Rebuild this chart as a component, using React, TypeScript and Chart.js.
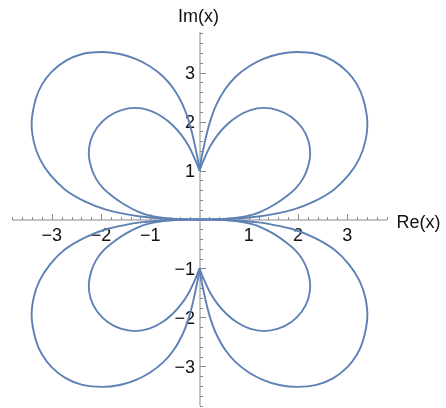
import { useEffect, useRef } from "react";
import { Chart, registerables } from "chart.js";

Chart.register(...registerables);

// Upper-left outer loop: from the origin, out along the real axis, round, and into the cusp at i.
const OUTER_RE = [0, -0.5, -0.9, -1.2, -1.5, -1.9, -2.33, -2.73, -3.04, -3.25, -3.37, -3.41, -3.33, -3.2, -3.0, -2.72, -2.38, -1.98, -1.62, -1.3, -1.01, -0.74, -0.52, -0.35, -0.23, -0.14, -0.07, -0.02, 0];
const OUTER_IM = [0, 0.01, 0.03, 0.06, 0.11, 0.2, 0.37, 0.61, 0.92, 1.25, 1.6, 2.0, 2.45, 2.76, 3.02, 3.24, 3.38, 3.42, 3.38, 3.28, 3.13, 2.92, 2.66, 2.36, 2.05, 1.72, 1.4, 1.15, 1];

// Upper-left inner loop, same direction.
const INNER_RE = [0, -0.5, -0.8, -1.05, -1.25, -1.5, -1.75, -1.95, -2.1, -2.2, -2.25, -2.21, -2.08, -1.86, -1.6, -1.31, -1.02, -0.76, -0.55, -0.37, -0.22, -0.1, -0.03, 0];
const INNER_IM = [0, 0.01, 0.04, 0.09, 0.16, 0.29, 0.46, 0.63, 0.83, 1.06, 1.34, 1.62, 1.88, 2.1, 2.23, 2.28, 2.23, 2.1, 1.93, 1.73, 1.5, 1.25, 1.08, 1];

// The figure is symmetric in both axes: each quadrant is the loop with signs flipped.
const QUADRANT_SIGNS: [number, number][] = [[1, 1], [-1, 1], [1, -1], [-1, -1]];

const TICK_VALUES = [-3, -2, -1, 1, 2, 3];
const X_RANGE = [-3.81, 3.81];
const Y_RANGE = [-3.81, 3.83];
const X_TITLE = "Re(x)";
const Y_TITLE = "Im(x)";

const CURVE_COLOR = "#5E81B5";
const AXIS_COLOR = "#8a8a8a";
const FONT = '18px "Liberation Sans", Arial, Helvetica, sans-serif';

const minus = (v: number) => (v < 0 ? "\u2212" + Math.abs(v) : String(v));

const centerAxes = {
  id: "centerAxes",
  beforeDatasetsDraw(chart: any) {
    const { ctx } = chart;
    const xs = chart.scales.x;
    const ys = chart.scales.y;
    const x0 = xs.getPixelForValue(0);
    const y0 = ys.getPixelForValue(0);
    ctx.save();
    ctx.strokeStyle = AXIS_COLOR;
    ctx.lineWidth = 1;
    ctx.beginPath();
    ctx.moveTo(xs.left, y0 + 0.5);
    ctx.lineTo(xs.right, y0 + 0.5);
    ctx.moveTo(x0 + 0.5, ys.top);
    ctx.lineTo(x0 + 0.5, ys.bottom);
    ctx.stroke();

    // minor ticks every 0.2, major ticks at integers
    ctx.beginPath();
    for (let i = -19; i <= 19; i++) {
      if (i === 0) continue;
      const v = i / 5;
      const len = i % 5 === 0 ? 6 : 3;
      const px = Math.round(xs.getPixelForValue(v)) + 0.5;
      ctx.moveTo(px, y0 + 0.5);
      ctx.lineTo(px, y0 + 0.5 - len);
      const py = Math.round(ys.getPixelForValue(v)) + 0.5;
      ctx.moveTo(x0 + 0.5, py);
      ctx.lineTo(x0 + 0.5 + len, py);
    }
    ctx.stroke();

    ctx.fillStyle = "#111";
    ctx.font = FONT;
    ctx.textBaseline = "alphabetic";
    ctx.textAlign = "center";
    for (const v of TICK_VALUES) {
      ctx.fillText(minus(v), xs.getPixelForValue(v), y0 + 21.5);
    }
    ctx.textAlign = "right";
    for (const v of TICK_VALUES) {
      ctx.fillText(minus(v), x0 - 4.5, ys.getPixelForValue(v) + 6.5);
    }
    ctx.textAlign = "left";
    ctx.fillText(X_TITLE, xs.right + 9.5, y0 + 8.5);
    ctx.fillText(Y_TITLE, x0 - 21.5, ys.top - 10);
    ctx.restore();
  },
};

export default function App() {
  const canvasRef = useRef<HTMLCanvasElement | null>(null);

  useEffect(() => {
    const canvas = canvasRef.current;
    if (!canvas) return;

    const loops = [
      { re: OUTER_RE, im: OUTER_IM },
      { re: INNER_RE, im: INNER_IM },
    ];
    const datasets: any[] = [];
    for (const [sx, sy] of QUADRANT_SIGNS) {
      for (const loop of loops) {
        datasets.push({
          data: loop.re.map((r, i) => ({ x: sx * r, y: sy * loop.im[i] })),
          showLine: true,
          borderColor: CURVE_COLOR,
          borderWidth: 1.9,
          pointRadius: 0,
          tension: 0.4,
          fill: false,
        });
      }
    }

    const chart = new Chart(canvas, {
      type: "scatter",
      data: { datasets },
      options: {
        animation: false,
        responsive: false,
        maintainAspectRatio: false,
        layout: { padding: { left: 12, right: 59, top: 32, bottom: 2 } },
        plugins: { legend: { display: false }, tooltip: { enabled: false } },
        scales: {
          x: { type: "linear", min: X_RANGE[0], max: X_RANGE[1], display: false },
          y: { type: "linear", min: Y_RANGE[0], max: Y_RANGE[1], display: false },
        },
      },
      plugins: [centerAxes],
    });
    return () => chart.destroy();
  }, []);

  return (
    <div style={{ position: "absolute", left: 0, top: 0, width: 446, height: 408, background: "#fff" }}>
      <canvas ref={canvasRef} width={446} height={408} />
    </div>
  );
}
